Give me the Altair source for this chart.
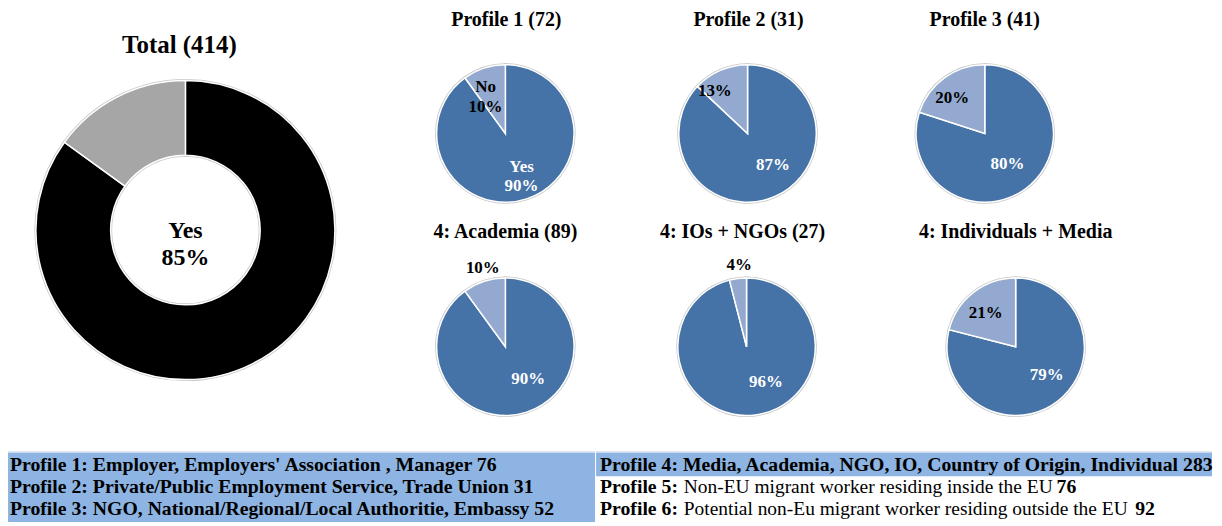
import math
import altair as alt
import pandas as pd

# ---------------- data ----------------
pies = ["Total", "Profile 1", "Profile 2", "Profile 3", "Academia", "IOs + NGOs", "Individuals + Media"]
titles = ["Total (414)", "Profile 1 (72)", "Profile 2 (31)", "Profile 3 (41)",
          "4: Academia (89)", "4: IOs + NGOs (27)", "4: Individuals + Media"]
yes_pct = [85, 90, 87, 80, 90, 96, 79]
no_pct = [15, 10, 13, 20, 10, 4, 21]
answers = ["Yes", "No"]
show_answer_name = [True, True, False, False, False, False, False]

legend_left = [
    "Profile 1: Employer, Employers' Association , Manager 76",
    "Profile 2: Private/Public Employment Service, Trade Union 31",
    "Profile 3: NGO, National/Regional/Local Authoritie, Embassy 52",
]
legend_right_bold = ["Profile 4: Media, Academia, NGO, IO, Country of Origin, Individual 283",
                     "Profile 5:", "Profile 6:"]
legend_right_plain = ["", "Non-EU migrant worker residing inside the EU", "Potential non-Eu migrant worker residing outside the EU"]
legend_right_count = ["", "76", "92"]

rows = []
for i, p in enumerate(pies):
    for j, (a, v) in enumerate(zip(answers, [yes_pct[i], no_pct[i]])):
        lab = (a + "\n" if show_answer_name[i] else "") + f"{v}%"
        rows.append({"pie": p, "answer": a, "value": v, "order": j, "label": lab})
df = pd.DataFrame(rows)

# ---------------- layout / style ----------------
M = 8  # page margin; layout numbers below are in page pixels
FONT = "Liberation Serif"
DARK, LIGHT = "#4572A7", "#93A9CF"
BLACK, GRAY = "#000000", "#A6A6A6"
LEG = "#8DB4E2"
LEG_SIZE = 19.8
PLAIN_SIZE = 19.5

layout = {
    "Total": dict(cx=186, cy=230, r=150, ri=75, tx=180, ty=52, ts=25),
    "Profile 1": dict(cx=507, cy=133, r=69, tx=508, ty=25, ts=20, yr=37, yo=-8, nr=51, no=-5),
    "Profile 2": dict(cx=750, cy=133, r=69, tx=751, ty=25, ts=20, yr=41, yo=-15, nr=54, no=-14),
    "Profile 3": dict(cx=988, cy=133, r=69, tx=988, ty=25, ts=20, yr=38, yo=-1, nr=48, no=-7),
    "Academia": dict(cx=507, cy=347, r=69, tx=507, ty=238, ts=20, yr=40, yo=-17, nr=82, no=2),
    "IOs + NGOs": dict(cx=749, cy=347, r=69, tx=745, ty=238, ts=20, yr=40, yo=-22, nr=82, no=2),
    "Individuals + Media": dict(cx=1019, cy=347, r=69, tx=1019, ty=238, ts=20, yr=42, yo=-10, nr=45, no=-4),
}

TAU = 2 * math.pi
theta_scale = alt.Scale(domain=[0, 100], range=[0, TAU])

base = alt.Chart(df)
layers = []
one = pd.DataFrame({"k": [0]})

# legend boxes
layers.append(alt.Chart(one).mark_rect(color=LEG).encode(
    x=alt.value(8 - M), x2=alt.value(597 - M), y=alt.value(453 - M), y2=alt.value(523 - M)))
layers.append(alt.Chart(one).mark_rect(color=LEG).encode(
    x=alt.value(598 - M), x2=alt.value(1216 - M), y=alt.value(453 - M), y2=alt.value(477 - M)))
layers.append(alt.Chart(one).mark_rule(color="#dfe6ef", strokeWidth=1).encode(
    x=alt.value(8 - M), x2=alt.value(1216 - M), y=alt.value(452 - M)))

for i, p in enumerate(pies):
    L = layout[p]
    cx, cy = L["cx"] - M, L["cy"] - M
    sub = base.transform_filter(alt.datum.pie == p)
    is_total = p == "Total"
    c_yes, c_no = (BLACK, GRAY) if is_total else (DARK, LIGHT)
    arc_kw = dict(outerRadius=L["r"])
    if is_total:
        arc_kw["innerRadius"] = L["ri"]
    enc = dict(
        theta=alt.Theta("value:Q", stack=True, scale=theta_scale),
        order=alt.Order("order:Q"),
        x=alt.value(cx), y=alt.value(cy),
    )
    # soft shadow ring
    layers.append(sub.mark_arc(stroke="#c8c8c8", strokeWidth=3, color="#c8c8c8", **arc_kw).encode(**enc))
    layers.append(sub.mark_arc(stroke="white", strokeWidth=1.5, **arc_kw).encode(
        color=alt.condition(alt.datum.answer == "Yes", alt.value(c_yes), alt.value(c_no)), **enc))

    # title
    layers.append(alt.Chart(pd.DataFrame({"t": [titles[i]]})).mark_text(
        font=FONT, fontWeight="bold", fontSize=L["ts"], baseline="alphabetic", align="center", color="black"
    ).encode(text="t:N", x=alt.value(L["tx"] - M), y=alt.value(L["ty"] - M)))

    if is_total:
        layers.append(sub.transform_filter(alt.datum.answer == "Yes").mark_text(
            font=FONT, fontWeight="bold", fontSize=24, lineBreak="\n", lineHeight=27,
            baseline="middle", align="center", color="black"
        ).encode(text="label:N", x=alt.value(cx), y=alt.value(cy + 1)))
    else:
        lab = sub.transform_window(cum="sum(value)", sort=[alt.SortField("order")]) \
                 .transform_calculate(mid="datum.cum - datum.value / 2")
        for a, rr, off, col in [("Yes", L["yr"], L["yo"], "white"), ("No", L["nr"], L["no"], "black")]:
            layers.append(lab.transform_filter(alt.datum.answer == a).mark_text(
                font=FONT, fontWeight="bold", fontSize=17, lineBreak="\n", lineHeight=20,
                baseline="middle", align="center", color=col, radius=rr,
                thetaOffset=math.radians(off)
            ).encode(theta=alt.Theta("mid:Q", stack=None, scale=theta_scale),
                     text="label:N", x=alt.value(cx), y=alt.value(cy)))

# legend texts
left_base = [471.5, 494, 516]
for k, t in enumerate(legend_left):
    layers.append(alt.Chart(pd.DataFrame({"t": [t]})).mark_text(
        font=FONT, fontWeight="bold", fontSize=LEG_SIZE, align="left", baseline="alphabetic", color="black"
    ).encode(text="t:N", x=alt.value(10 - M), y=alt.value(left_base[k] - M)))

right_base = [472, 494, 516]
count_x = [None, 1060, 1139]
for k in range(3):
    layers.append(alt.Chart(pd.DataFrame({"t": [legend_right_bold[k]]})).mark_text(
        font=FONT, fontWeight="bold", fontSize=LEG_SIZE, align="left", baseline="alphabetic", color="black"
    ).encode(text="t:N", x=alt.value(602 - M), y=alt.value(right_base[k] - M)))
    if legend_right_plain[k]:
        layers.append(alt.Chart(pd.DataFrame({"t": [legend_right_plain[k]]})).mark_text(
            font=FONT, fontWeight="normal", fontSize=PLAIN_SIZE, align="left", baseline="alphabetic", color="black"
        ).encode(text="t:N", x=alt.value(686 - M), y=alt.value(right_base[k] - M)))
        layers.append(alt.Chart(pd.DataFrame({"t": [legend_right_count[k]]})).mark_text(
            font=FONT, fontWeight="bold", fontSize=LEG_SIZE, align="left", baseline="alphabetic", color="black"
        ).encode(text="t:N", x=alt.value(count_x[k] - M), y=alt.value(right_base[k] - M)))

chart = alt.layer(*layers).properties(
    width=1210, height=514, autosize=alt.AutoSizeParams(type="none"), padding=0,
    background="white"
).configure_view(stroke=None)

chart.save("out.html", embed_options={"renderer": "svg", "actions": False})
